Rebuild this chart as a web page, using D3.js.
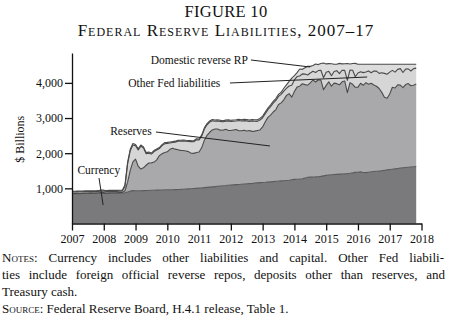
<!DOCTYPE html>
<html><head><meta charset="utf-8">
<script src="https://cdn.jsdelivr.net/npm/d3@7"></script>
<style>
body{margin:0;background:#fff}
svg{display:block;font-family:"Liberation Serif","Times New Roman",serif;color:#111}
</style>
</head><body><svg id="c" width="450" height="324"></svg>
<script>
// ---------- DATA (monthly, Jan 2007 – Nov 2017, $ billions) ----------
const startYear = 2007;
const yearTicks = [2007,2008,2009,2010,2011,2012,2013,2014,2015,2016,2017,2018];
const valueTicks = [1000,2000,3000,4000];

const currency = [
  848,848,850,850,852,853,854,855,856,857,859,862,
  858,857,858,860,862,864,866,868,872,895,920,935,
  932,930,930,934,937,940,944,947,950,952,955,958,
  960,960,962,965,968,970,975,980,985,990,995,1000,
  1005,1010,1020,1028,1035,1042,1050,1058,1065,1072,1080,1090,
  1095,1100,1105,1110,1118,1125,1130,1135,1140,1148,1155,1162,
  1168,1172,1178,1185,1192,1200,1205,1212,1218,1225,1232,1245,
  1255,1260,1265,1275,1290,1315,1320,1322,1325,1330,1340,1355,
  1370,1378,1385,1392,1398,1405,1410,1415,1420,1428,1440,1455,
  1460,1468,1452,1448,1460,1470,1478,1485,1490,1500,1510,1525,
  1535,1545,1555,1565,1575,1585,1592,1600,1608,1615,1620
];
const reserves = [
  12,10,14,12,11,13,12,15,12,11,14,16,
  20,12,15,14,12,11,13,14,60,280,590,820,
  900,700,620,650,720,780,780,800,860,980,1030,1060,
  1080,1150,1180,1150,1130,1110,1100,1080,1060,1010,1000,1020,
  1030,1150,1350,1480,1560,1620,1640,1630,1590,1580,1600,1560,
  1550,1560,1570,1530,1520,1530,1500,1510,1480,1480,1490,1500,
  1580,1720,1840,1900,1980,2040,2180,2220,2300,2420,2460,2350,
  2500,2620,2640,2700,2660,2620,2680,2760,2700,2760,2740,2450,
  2560,2650,2520,2600,2580,2540,2620,2640,2300,2580,2520,2420,
  2420,2520,2480,2560,2500,2520,2460,2420,2350,2230,2080,2040,
  2150,2330,2300,2380,2360,2280,2360,2380,2310,2320,2350
];
const otherFed = [
  40,38,42,40,38,40,42,40,38,40,42,45,
  42,40,40,42,40,40,42,40,120,520,560,480,
  380,460,650,560,330,280,250,300,280,200,230,250,
  240,180,160,200,240,260,270,280,290,330,330,360,
  340,330,320,300,290,260,220,230,250,240,230,270,
  260,250,240,290,280,270,290,260,300,280,260,280,
  260,230,220,240,250,260,230,240,250,200,220,340,
  330,300,290,280,300,290,280,250,270,260,280,340,
  370,300,300,330,370,320,330,300,350,360,400,300,
  400,330,360,300,380,300,400,430,430,560,680,680,
  620,480,450,440,470,430,440,420,420,470,450
];
const domesticRRP = [
  20,22,18,24,20,22,21,23,24,23,25,26,
  28,27,30,28,29,27,26,25,40,45,42,40,
  35,32,34,33,30,31,30,29,30,28,30,32,
  28,30,28,27,26,28,27,26,28,27,28,30,
  28,30,31,32,33,34,35,33,32,31,30,32,
  34,35,36,35,34,36,37,38,40,42,44,46,
  45,46,48,50,52,55,58,60,80,100,130,200,
  120,110,200,130,180,250,190,160,240,170,190,420,
  240,220,340,210,180,290,180,190,480,170,190,380,
  250,210,240,220,190,240,190,195,260,240,260,285,
  225,175,225,145,125,235,138,130,192,125,110
];

// ---------- LAYOUT ----------
const svg = d3.select('#c');
const x = d3.scaleLinear().domain([2007, 2018]).range([72, 421.5]);
const y = d3.scaleLinear().domain([0, 4850]).range([223.5, 53]);

const dates = currency.map((_, i) => startYear + i / 12);
const rows = dates.map((d, i) => ({
  currency: currency[i], reserves: reserves[i], other: otherFed[i], rrp: domesticRRP[i]
}));
const keys = ['currency', 'reserves', 'other', 'rrp'];
const series = d3.stack().keys(keys)(rows);
const fills = {currency: '#7a7a7c', reserves: '#a9a9ab', other: '#d6d6d6', rrp: '#dcdcdc'};

const area = d3.area().x((d, i) => x(dates[i])).y0(d => y(d[0])).y1(d => y(d[1]));
const line = d3.line().x((d, i) => x(dates[i])).y(d => y(d[1]));

svg.append('g').selectAll('path').data(series).join('path')
  .attr('d', area).attr('fill', d => fills[d.key]);
svg.append('g').selectAll('path').data(series).join('path')
  .attr('d', line).attr('fill', 'none')
  .attr('stroke', d => d.key === 'currency' ? '#5a5a5c' : '#4a4a4a')
  .attr('stroke-width', 1.1).attr('stroke-linejoin', 'round');

// axes
const yAxis = svg.append('g').attr('transform', `translate(${x(2007)},0)`)
  .call(d3.axisLeft(y).tickValues(valueTicks).tickSize(7).tickSizeOuter(0)
    .tickPadding(2).tickFormat(d3.format(',')));
const xAxis = svg.append('g').attr('transform', `translate(0,${y(0)})`)
  .call(d3.axisBottom(x).tickValues(yearTicks).tickSize(7).tickSizeOuter(0)
    .tickPadding(4).tickFormat(d3.format('d')));
[yAxis, xAxis].forEach(g => {
  g.selectAll('path,line').attr('stroke', '#111').attr('stroke-width', 1.3);
  g.selectAll('text').attr('font-size', 12).attr('fill', '#111')
    .attr('font-family', '"Liberation Serif","Times New Roman",serif');
});

svg.append('text')
  .attr('transform', `translate(24,${(y(4850)+y(0))/2 + 1}) rotate(-90)`)
  .attr('text-anchor', 'middle').attr('font-size', 12).attr('fill', '#111')
  .text('$ Billions');

// annotations (positions in data units)
const notes = [
  {text: 'Domestic reverse RP', tx: 2009.48, ty: 4537, from: [2012.63, 4651], to: [2014.49, 4452]},
  {text: 'Other Fed liabilities', tx: 2008.77, ty: 3874, from: [2011.97, 3997], to: [2016.29, 4167]},
  {text: 'Reserves', tx: 2008.2, ty: 2517, from: [2009.64, 2603], to: [2013.23, 2205]},
  {text: 'Currency', tx: 2007.17, ty: 1408, from: [2007.85, 1294], to: [2007.98, 526]}
];
const ag = svg.append('g');
notes.forEach(n => {
  ag.append('line')
    .attr('x1', x(n.from[0])).attr('y1', y(n.from[1]))
    .attr('x2', x(n.to[0])).attr('y2', y(n.to[1]))
    .attr('stroke', '#222').attr('stroke-width', 1);
  ag.append('text').attr('x', x(n.tx)).attr('y', y(n.ty))
    .attr('font-size', 11.5).attr('fill', '#111').text(n.text);
});

// title
svg.append('text').attr('x', 226).attr('y', 17).attr('text-anchor', 'middle')
  .attr('font-size', 16.5).attr('letter-spacing', 0.3).attr('fill', '#111').text('FIGURE 10');
svg.append('text').attr('x', 226).attr('y', 36).attr('text-anchor', 'middle')
  .attr('font-size', 17).attr('letter-spacing', 1).attr('fill', '#111').style('font-variant', 'small-caps')
  .text('Federal Reserve Liabilities, 2007–17');

// notes (first two lines justified via word spacing)
const fs = 13;
function justify(sel, target) {
  const w = sel.node().getComputedTextLength();
  const spaces = (sel.text().match(/ /g) || []).length;
  if (spaces > 0 && w < target) sel.attr('word-spacing', (target - w) / spaces);
}
const t1 = svg.append('text').attr('x', 2).attr('y', 262).attr('font-size', fs).attr('fill', '#111');
t1.append('tspan').style('font-variant', 'small-caps').text('Notes');
t1.append('tspan').text(': Currency includes other liabilities and capital. Other Fed liabili-');
justify(t1, 442);
const t2 = svg.append('text').attr('x', 2).attr('y', 279).attr('font-size', fs).attr('fill', '#111')
  .text('ties include foreign official reverse repos, deposits other than reserves, and');
justify(t2, 443);
svg.append('text').attr('x', 2).attr('y', 296).attr('font-size', fs).attr('fill', '#111')
  .text('Treasury cash.');
const t4 = svg.append('text').attr('x', 2).attr('y', 313).attr('font-size', fs).attr('fill', '#111');
t4.append('tspan').style('font-variant', 'small-caps').text('Source');
t4.append('tspan').text(': Federal Reserve Board, H.4.1 release, Table 1.');
</script></body></html>
